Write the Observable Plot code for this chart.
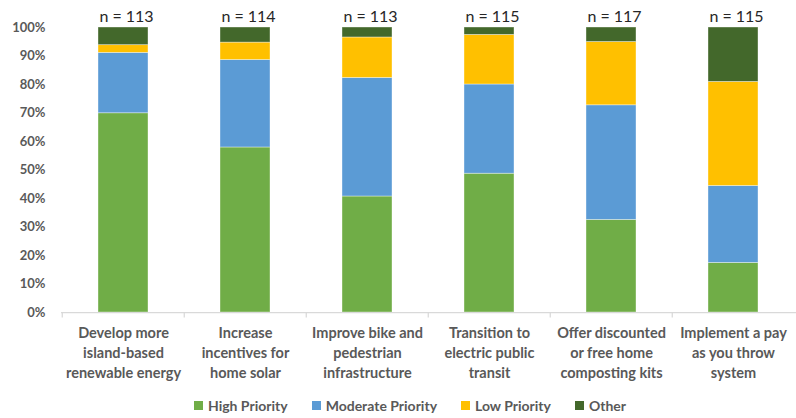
<!DOCTYPE html>
<html>
<head>
<meta charset="utf-8">
<script src="https://cdn.jsdelivr.net/npm/d3@7"></script>
<script src="https://cdn.jsdelivr.net/npm/@observablehq/plot@0.6"></script>
<style>
  html, body { margin: 0; padding: 0; background: #fff; }
  #chart { width: 796px; }
  .legend { display: flex; justify-content: center; align-items: center; gap: 24px;
    height: 26px; padding-left: 24px; font-family: Lato, "Open Sans", sans-serif; font-weight: 700;
    font-size: 14px; color: #595959; }
  .legend .item { display: flex; align-items: center; gap: 5px; }
  .legend .sw { width: 9px; height: 9px; display: inline-block; }
</style>
</head>
<body>
<div id="chart"></div>
<script>
const categories = [
  "Develop more\nisland-based\nrenewable energy",
  "Increase\nincentives for\nhome solar",
  "Improve bike and\npedestrian\ninfrastructure",
  "Transition to\nelectric public\ntransit",
  "Offer discounted\nor free home\ncomposting kits",
  "Implement a pay\nas you throw\nsystem"
];
const sampleSizes = [113, 114, 113, 115, 117, 115];
const seriesNames = ["High Priority", "Moderate Priority", "Low Priority", "Other"];
const highPriority     = [69.9, 57.9, 40.7, 48.7, 32.5, 17.4];
const moderatePriority = [21.2, 30.7, 41.6, 31.3, 40.2, 27.0];
const lowPriority      = [2.7, 6.1, 14.2, 17.4, 22.2, 36.5];
const other            = [6.2, 5.3, 3.5, 2.6, 5.1, 19.1];
const yTicks = [0, 10, 20, 30, 40, 50, 60, 70, 80, 90, 100];
const colors = ["#70AD47", "#5B9BD5", "#FFC000", "#43682B"];

const seriesValues = [highPriority, moderatePriority, lowPriority, other];
const rows = [];
categories.forEach((c, i) => {
  seriesNames.forEach((s, j) => rows.push({category: c, series: s, value: seriesValues[j][i]}));
});
const nRows = categories.map((c, i) => ({category: c, label: `n = ${sampleSizes[i]}`}));

const W = 796, ML = 61, MR = 0;
const step = (W - ML - MR) / categories.length;
const font = "Lato, 'Open Sans', sans-serif";

const chart = Plot.plot({
  width: W,
  height: 392,
  marginLeft: ML,
  marginRight: MR,
  marginTop: 27,
  marginBottom: 80,
  style: {fontFamily: font, background: "#fff", overflow: "visible"},
  x: {domain: categories, paddingInner: 0.59, paddingOuter: 0.295, axis: null},
  y: {domain: [0, 100], axis: null},
  color: {domain: seriesNames, range: colors},
  marks: [
    Plot.barY(rows, {x: "category", y: "value", fill: "series", stroke: "#fff", strokeOpacity: 0.5, strokeWidth: 0.75}),
    Plot.ruleY([0], {stroke: "#d9d9d9", strokeWidth: 1.25}),
    Plot.ruleX(categories, {x: d => d, y1: 0, y2: -1.9, dx: -step / 2, stroke: "#d9d9d9", strokeWidth: 1.25, clip: false}),
    Plot.text(yTicks, {x: null, y: d => d, text: d => `${d}%`, frameAnchor: "left", textAnchor: "end", dx: -16,
      fill: "#595959", fontSize: 13, fontWeight: 700}),
    Plot.text(categories, {x: d => d, text: d => d, frameAnchor: "bottom", lineAnchor: "top", dy: 12,
      lineHeight: 1.35, fill: "#595959", fontSize: 14.5, fontWeight: 700}),
    Plot.text(nRows, {x: "category", y: 100, text: "label", lineAnchor: "bottom", dy: -6, dx: 3,
      fill: "#262626", fontSize: 16})
  ]
});
document.getElementById("chart").appendChild(chart);

const legend = document.createElement("div");
legend.className = "legend";
seriesNames.forEach((s, i) => {
  const item = document.createElement("div");
  item.className = "item";
  const sw = document.createElement("span");
  sw.className = "sw";
  sw.style.background = colors[i];
  const t = document.createElement("span");
  t.textContent = s;
  item.appendChild(sw);
  item.appendChild(t);
  legend.appendChild(item);
});
document.getElementById("chart").appendChild(legend);
</script>
</body>
</html>
